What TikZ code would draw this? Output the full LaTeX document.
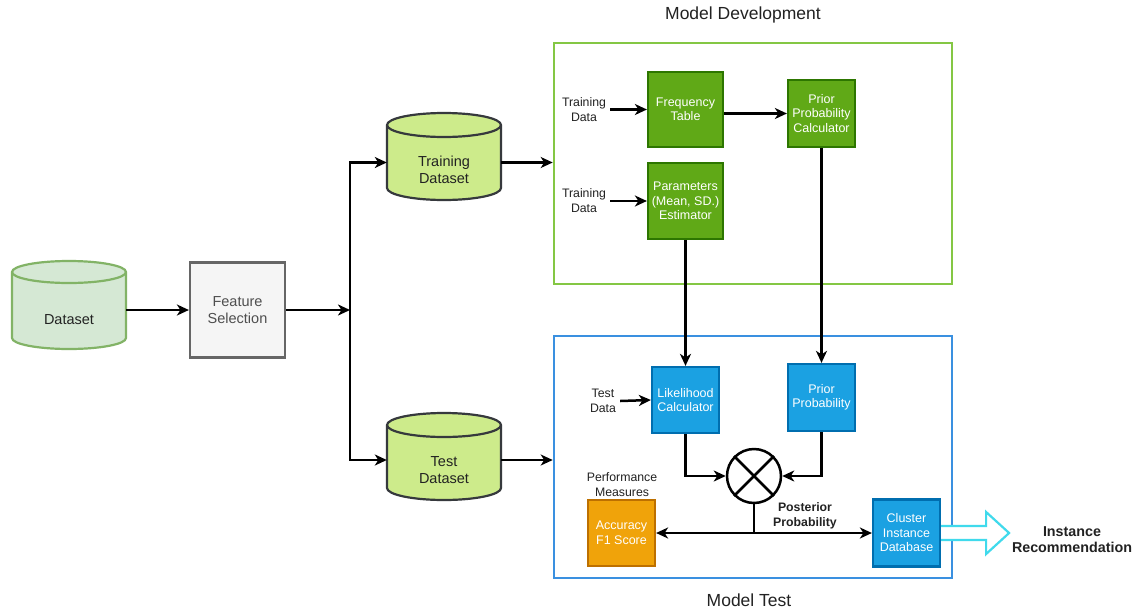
\documentclass[tikz,border=0pt]{standalone}
\usepackage{fontspec}
\setmainfont{Liberation Sans}
\usetikzlibrary{arrows.meta,calc}

\definecolor{dsfill}{HTML}{D5E8D4}
\definecolor{dsdraw}{HTML}{82B366}
\definecolor{cylfill}{HTML}{CDEB8B}
\definecolor{cyldraw}{HTML}{36393D}
\definecolor{fsfill}{HTML}{F5F5F5}
\definecolor{fsdraw}{HTML}{666666}
\definecolor{gfill}{HTML}{60A917}
\definecolor{gdraw}{HTML}{2D7600}
\definecolor{bfill}{HTML}{1BA1E2}
\definecolor{bdraw}{HTML}{006EAF}
\definecolor{ofill}{HTML}{F0A30A}
\definecolor{odraw}{HTML}{BD7000}
\definecolor{devframe}{HTML}{84C744}
\definecolor{testframe}{HTML}{3A90E0}
\definecolor{outarrow}{HTML}{40DAEC}
\definecolor{txt}{HTML}{222222}

\newcommand\fsA{\fontsize{14.5pt}{16.5pt}\selectfont}
\newcommand\fsB{\fontsize{12.5pt}{14.5pt}\selectfont}
\newcommand\fsC{\fontsize{12.3pt}{15pt}\selectfont}
\newcommand\fsT{\fontsize{17.5pt}{20pt}\selectfont}

% cylinder outline: left, right, top, bottom, cap radius, fill, stroke
\newcommand\drawcyl[7]{%
  \pgfmathsetmacro\cylrx{(#2-#1)/2}%
  \filldraw[fill=#6,draw=#7,line width=2.2pt,line join=round]
    (#1,#3+#5) -- (#1,#4-#5)
    arc[start angle=180,end angle=0,x radius=\cylrx,y radius=#5]
    -- (#2,#3+#5)
    arc[start angle=0,end angle=-180,x radius=\cylrx,y radius=#5] -- cycle;
  \draw[draw=#7,line width=2.2pt]
    (#1,#3+#5) arc[start angle=180,end angle=0,x radius=\cylrx,y radius=#5];}

\begin{document}
\begin{tikzpicture}[x=1pt,y={(0,-1pt)},
  arr/.style={line width=2.5pt,draw=black,-{Stealth[length=12pt,width=11pt,inset=3.5pt]}},
  plain/.style={line width=2.5pt,draw=black},
  cylarea/.style={draw=none,minimum width=114pt,inner sep=0pt},
  cyltext/.style={font=\fsA,text=txt,align=center},
  gbox/.style={rectangle,fill=gfill,draw=gdraw,line width=2.2pt,text=white,font=\fsB,align=center,inner sep=1pt},
  bbox/.style={rectangle,fill=bfill,draw=bdraw,line width=2.2pt,text=white,font=\fsB,align=center,inner sep=1pt},
  obox/.style={rectangle,fill=ofill,draw=odraw,line width=2.2pt,text=white,font=\fsB,align=center,inner sep=1pt},
  lbl/.style={font=\fsC,text=txt,align=center,inner sep=4pt},
  boldlbl/.style={font=\fsC\bfseries,text=txt,align=center},
  frame/.style={rectangle,line width=2.6pt,fill=none},
  title/.style={font=\fsT,text=txt}]

\useasboundingbox[fill=white] (0,0) rectangle (1138,611);

% ---------- data preparation ----------
\drawcyl{12}{126}{261}{349}{11}{dsfill}{dsdraw}
\node[cylarea,minimum height=70pt,
  label={[cyltext,yshift=-10pt]center:Dataset}] (ds) at (69,310) {};

\node[rectangle,fill=fsfill,draw=fsdraw,line width=2.2pt,minimum width=95pt,
  minimum height=95pt,font=\fsA,text=txt!80,align=center] (fs) at (237.5,310) {Feature\\Selection};

\coordinate (sp) at (350,310);

\drawcyl{387}{501}{113}{200}{12}{cylfill}{cyldraw}
\node[cylarea,minimum height=60pt,
  label={[cyltext,yshift=-7.5pt]center:Training\\Dataset}] (tr) at (444,162.5) {};

\drawcyl{387}{501}{413}{500}{12}{cylfill}{cyldraw}
\node[cylarea,minimum height=60pt,
  label={[cyltext,yshift=-10pt]center:Test\\Dataset}] (te) at (444,460) {};

\draw[arr] (ds.east) -- (fs.west);
\draw[arr] (fs.east) -- (sp);
\draw[arr] (sp) |- (tr.west);
\draw[arr] (sp) |- (te.west);

% ---------- frames ----------
\node[frame,draw=devframe,minimum width=398pt,minimum height=241pt] (md) at (753,163.5) {};
\node[frame,draw=testframe,minimum width=398pt,minimum height=242pt] (mt) at (753,457) {};
\node[title] (mdt) at (743,15) {Model Development};
\node[title] (mtt) at (749,600) {Model Test};

\draw[arr] (tr.east) -- (tr.east -| md.west);
\draw[arr] (te.east) -- (te.east -| mt.west);

% ---------- model development ----------
\node[gbox,minimum width=75pt,minimum height=75pt] (ft) at (685.5,109.5) {Frequency\\Table};
\node[gbox,minimum width=67pt,minimum height=67pt] (pc) at (821.5,113.5) {Prior\\Probability\\Calculator};
\node[gbox,minimum width=75pt,minimum height=76pt] (pe) at (685.5,201) {Parameters\\(Mean, SD.)\\Estimator};
\node[lbl] (td1) at (584,109.5) {Training\\Data};
\node[lbl] (td2) at (584,201) {Training\\Data};

\draw[arr] (td1.east) -- (ft.west);
\draw[arr] (td2.east) -- (pe.west);
\draw[arr] (ft.east |- pc.west) -- (pc.west);

% ---------- model test ----------
\node[bbox,minimum width=67pt,minimum height=66pt] (lk) at (685.5,400) {Likelihood\\Calculator};
\node[bbox,minimum width=67pt,minimum height=67pt] (pp) at (821.5,397.5) {Prior\\Probability};
\node[lbl] (tsd) at (603,401) {Test\\Data};
\node[circle,draw=black,line width=2.5pt,minimum size=54pt,inner sep=0pt] (mul) at (754,476) {};
\draw[plain] (mul.45) -- (mul.225) (mul.135) -- (mul.315);

\node[obox,minimum width=67pt,minimum height=66pt] (acc) at (621.5,533) {Accuracy\\F1 Score};
\node[bbox,minimum width=67pt,minimum height=67pt] (cl) at (906.5,533) {Cluster\\Instance\\Database};
\node[lbl,inner sep=0pt] (pm) at (622,485) {Performance\\Measures};
\node[boldlbl] (post) at (805,516) {Posterior\\Probability};
\node[boldlbl,font=\fontsize{14.3pt}{16pt}\selectfont\bfseries] (rec) at (1072,540) {Instance\\Recommendation};

\draw[arr] (pe.south) -- (lk.north);
\draw[arr] (pc.south) -- (pp.north);
\draw[arr] (tsd.east) -- (lk.west);
\draw[arr] (lk.south) |- (mul.west);
\draw[arr] (pp.south) |- (mul.east);

\coordinate (jn) at (mul.south |- acc.east);
\draw[plain] (mul.south) -- (jn);
\draw[arr] (jn) -- (acc.east);
\draw[arr] (jn) -- (cl.west);

% hollow output arrow
\draw[draw=outarrow,line width=2.2pt,line join=miter,fill=white]
  (cl.east) ++(0,-7) -- ++(45,0) -- ++(0,-14) -- ++(23,21)
  -- ++(-23,21) -- ++(0,-14) -- ++(-45,0);
\end{tikzpicture}
\end{document}
